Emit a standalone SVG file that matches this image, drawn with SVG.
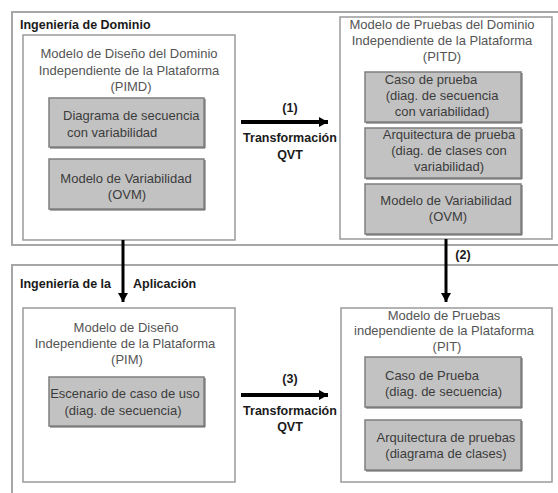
<svg xmlns="http://www.w3.org/2000/svg" width="558" height="493" viewBox="0 0 558 493">
  <style>
    .frame { fill: none; stroke: #a6a6a6; stroke-width: 2; }
    .model { fill: #ffffff; stroke: #9a9a9a; stroke-width: 1.5; }
    .part { fill: #c2c2c2; stroke: #7f7f7f; stroke-width: 1.5; }
    .shadow { fill: none; stroke: #5a5a5a; stroke-width: 1; }
    .title { font-family: "Liberation Sans", Arial, sans-serif; font-size: 13px; fill: #555555; text-anchor: middle; }
    .ptxt { font-family: "Liberation Sans", Arial, sans-serif; font-size: 13px; fill: #3c3c3c; text-anchor: middle; }
    .bold { font-family: "Liberation Sans", Arial, sans-serif; font-size: 12.5px; font-weight: bold; fill: #1a1a1a; }
    .conn { stroke: #000000; fill: none; }
  </style>
  <defs>
    <marker id="head" markerUnits="userSpaceOnUse" markerWidth="10" markerHeight="12" refX="9" refY="6" orient="auto">
      <path d="M0,1 L9,6 L0,11 Z" fill="#000000"/>
    </marker>
  </defs>

  <rect width="558" height="493" fill="#ffffff"/>

  <!-- domain engineering frame -->
  <g id="domain-frame">
    <path class="frame" d="M558,12 H12 V245 H558"/>
    <text class="bold" x="20" y="29">Ingeniería de Dominio</text>
  </g>

  <!-- application engineering frame -->
  <g id="application-frame">
    <path class="frame" d="M558,265 H12 V493"/>
    <text class="bold" x="20" y="288">Ingeniería de la</text>
    <text class="bold" x="133" y="288">Aplicación</text>
  </g>

  <!-- PIMD -->
  <g id="pimd">
    <rect class="model" x="23" y="35" width="212" height="205"/>
    <text class="title" x="129" y="58">Modelo de Diseño del Dominio</text>
    <text class="title" x="129" y="75">Independiente de la Plataforma</text>
    <text class="title" x="131" y="91">(PIMD)</text>
    <g id="pimd-seq">
      <rect class="part" x="49" y="98" width="155" height="49"/>
      <path class="shadow" d="M205,99 V148 H50"/>
      <text class="ptxt" x="63" y="120" style="text-anchor:start">Diagrama de secuencia</text>
      <text class="ptxt" x="67" y="137" style="text-anchor:start">con variabilidad</text>
    </g>
    <g id="pimd-ovm">
      <rect class="part" x="49" y="159" width="155" height="50"/>
      <path class="shadow" d="M205,160 V210 H50"/>
      <text class="ptxt" x="126" y="183">Modelo de Variabilidad</text>
      <text class="ptxt" x="127" y="199">(OVM)</text>
    </g>
  </g>

  <!-- PITD -->
  <g id="pitd">
    <rect class="model" x="340" y="17" width="212" height="222"/>
    <text class="title" x="442" y="29">Modelo de Pruebas del Dominio</text>
    <text class="title" x="442" y="45">Independiente de la Plataforma</text>
    <text class="title" x="442" y="61">(PITD)</text>
    <g id="pitd-case">
      <rect class="part" x="365" y="72" width="156" height="50"/>
      <path class="shadow" d="M522,73 V123 H366"/>
      <text class="ptxt" x="431" y="84">Caso de prueba</text>
      <text class="ptxt" x="442" y="100">(diag. de secuencia</text>
      <text class="ptxt" x="442" y="116">con variabilidad)</text>
    </g>
    <g id="pitd-arch">
      <rect class="part" x="365" y="128" width="156" height="50"/>
      <path class="shadow" d="M522,129 V179 H366"/>
      <text class="ptxt" x="449" y="139">Arquitectura de prueba</text>
      <text class="ptxt" x="449" y="155">(diag. de clases con</text>
      <text class="ptxt" x="449" y="171">variabilidad)</text>
    </g>
    <g id="pitd-ovm">
      <rect class="part" x="365" y="184" width="156" height="50"/>
      <path class="shadow" d="M522,185 V235 H366"/>
      <text class="ptxt" x="446" y="205">Modelo de Variabilidad</text>
      <text class="ptxt" x="448" y="221">(OVM)</text>
    </g>
  </g>

  <!-- PIM -->
  <g id="pim">
    <rect class="model" x="23" y="308" width="212" height="174"/>
    <text class="title" x="126" y="332">Modelo de Diseño</text>
    <text class="title" x="125" y="348">Independiente de la Plataforma</text>
    <text class="title" x="127" y="364">(PIM)</text>
    <g id="pim-scenario">
      <rect class="part" x="49" y="377" width="155" height="49"/>
      <path class="shadow" d="M205,378 V427 H50"/>
      <text class="ptxt" x="125" y="398">Escenario de caso de uso</text>
      <text class="ptxt" x="123" y="415">(diag. de secuencia)</text>
    </g>
  </g>

  <!-- PIT -->
  <g id="pit">
    <rect class="model" x="341" y="308" width="211" height="174"/>
    <text class="title" x="444" y="320">Modelo de Pruebas</text>
    <text class="title" x="444" y="335">independiente de la Plataforma</text>
    <text class="title" x="447" y="351">(PIT)</text>
    <g id="pit-case">
      <rect class="part" x="365" y="357" width="156" height="50"/>
      <path class="shadow" d="M522,358 V408 H366"/>
      <text class="ptxt" x="385" y="380" style="text-anchor:start">Caso de Prueba</text>
      <text class="ptxt" x="385" y="396" style="text-anchor:start">(diag. de secuencia)</text>
    </g>
    <g id="pit-arch">
      <rect class="part" x="365" y="420" width="156" height="50"/>
      <path class="shadow" d="M522,421 V471 H366"/>
      <text class="ptxt" x="446" y="442">Arquitectura de pruebas</text>
      <text class="ptxt" x="446" y="458">(diagrama de clases)</text>
    </g>
  </g>

  <!-- transformations -->
  <g id="connectors">
    <line class="conn" x1="241" y1="122" x2="328" y2="122" stroke-width="4" marker-end="url(#head)"/>
    <text class="bold" x="290" y="112" text-anchor="middle">(1)</text>
    <text class="bold" x="290" y="142" text-anchor="middle">Transformación</text>
    <text class="bold" x="290" y="159" text-anchor="middle">QVT</text>

    <line class="conn" x1="123" y1="240" x2="123" y2="302" stroke-width="3" marker-end="url(#head)"/>

    <line class="conn" x1="446" y1="239" x2="446" y2="302" stroke-width="3" marker-end="url(#head)"/>
    <text class="bold" x="463" y="259" text-anchor="middle">(2)</text>

    <line class="conn" x1="241" y1="395" x2="328" y2="395" stroke-width="4" marker-end="url(#head)"/>
    <text class="bold" x="290" y="383" text-anchor="middle">(3)</text>
    <text class="bold" x="290" y="415" text-anchor="middle">Transformación</text>
    <text class="bold" x="290" y="431" text-anchor="middle">QVT</text>
  </g>
</svg>
